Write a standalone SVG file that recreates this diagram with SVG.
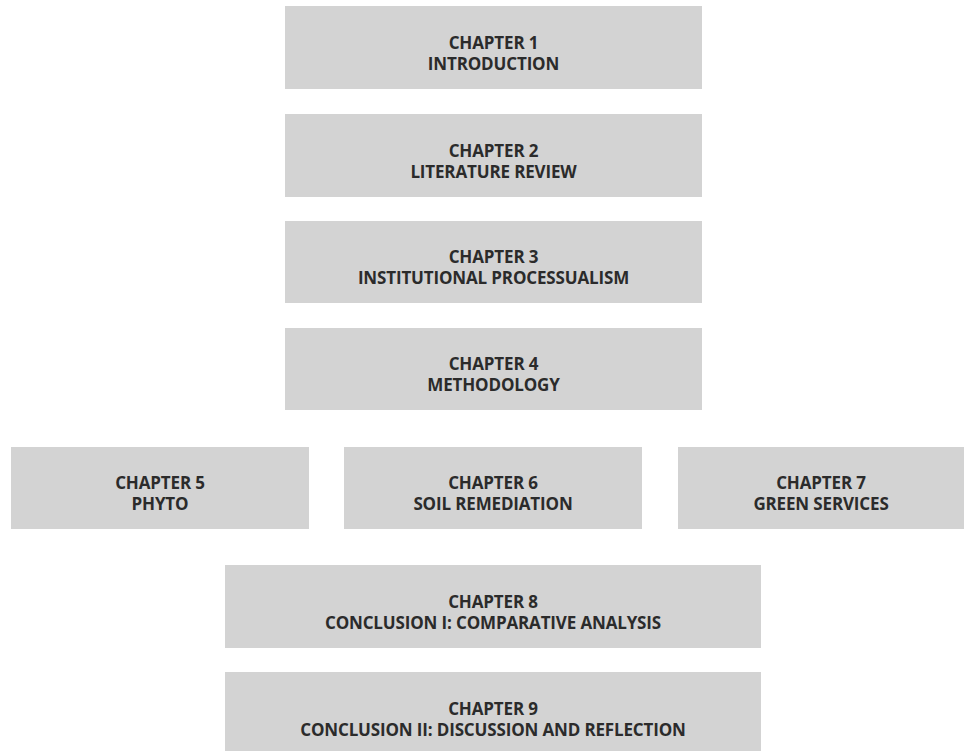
<svg xmlns="http://www.w3.org/2000/svg" width="964" height="751" viewBox="0 0 964 751">
<style>
.box{fill:#d3d3d3}
.t{font-family:"Open Sans","Liberation Sans",sans-serif;font-weight:bold;font-size:17px;letter-spacing:-0.15px;fill:#2b2b2b;text-anchor:middle}
</style>
<rect width="964" height="751" fill="#ffffff"/>
<g id="ch1"><rect class="box" x="285" y="6" width="417" height="83"/><text class="t" x="493.5" y="49">CHAPTER 1</text><text class="t" x="493.5" y="70">INTRODUCTION</text></g>
<g id="ch2"><rect class="box" x="285" y="114" width="417" height="83"/><text class="t" x="493.5" y="157">CHAPTER 2</text><text class="t" x="493.5" y="178">LITERATURE REVIEW</text></g>
<g id="ch3"><rect class="box" x="285" y="221" width="417" height="82"/><text class="t" x="493.5" y="263">CHAPTER 3</text><text class="t" x="493.5" y="284">INSTITUTIONAL PROCESSUALISM</text></g>
<g id="ch4"><rect class="box" x="285" y="328" width="417" height="82"/><text class="t" x="493.5" y="370">CHAPTER 4</text><text class="t" x="493.5" y="391">METHODOLOGY</text></g>
<g id="ch5"><rect class="box" x="11" y="447" width="298" height="82"/><text class="t" x="160" y="489">CHAPTER 5</text><text class="t" x="160" y="510">PHYTO</text></g>
<g id="ch6"><rect class="box" x="344" y="447" width="298" height="82"/><text class="t" x="493" y="489">CHAPTER 6</text><text class="t" x="493" y="510">SOIL REMEDIATION</text></g>
<g id="ch7"><rect class="box" x="678" y="447" width="286" height="82"/><text class="t" x="821" y="489">CHAPTER 7</text><text class="t" x="821" y="510">GREEN SERVICES</text></g>
<g id="ch8"><rect class="box" x="225" y="565" width="536" height="83"/><text class="t" x="493" y="608">CHAPTER 8</text><text class="t" x="493" y="629">CONCLUSION I: COMPARATIVE ANALYSIS</text></g>
<g id="ch9"><rect class="box" x="225" y="672" width="536" height="79"/><text class="t" x="493" y="715">CHAPTER 9</text><text class="t" x="493" y="736">CONCLUSION II: DISCUSSION AND REFLECTION</text></g>
<g id="connectors"></g>
</svg>
